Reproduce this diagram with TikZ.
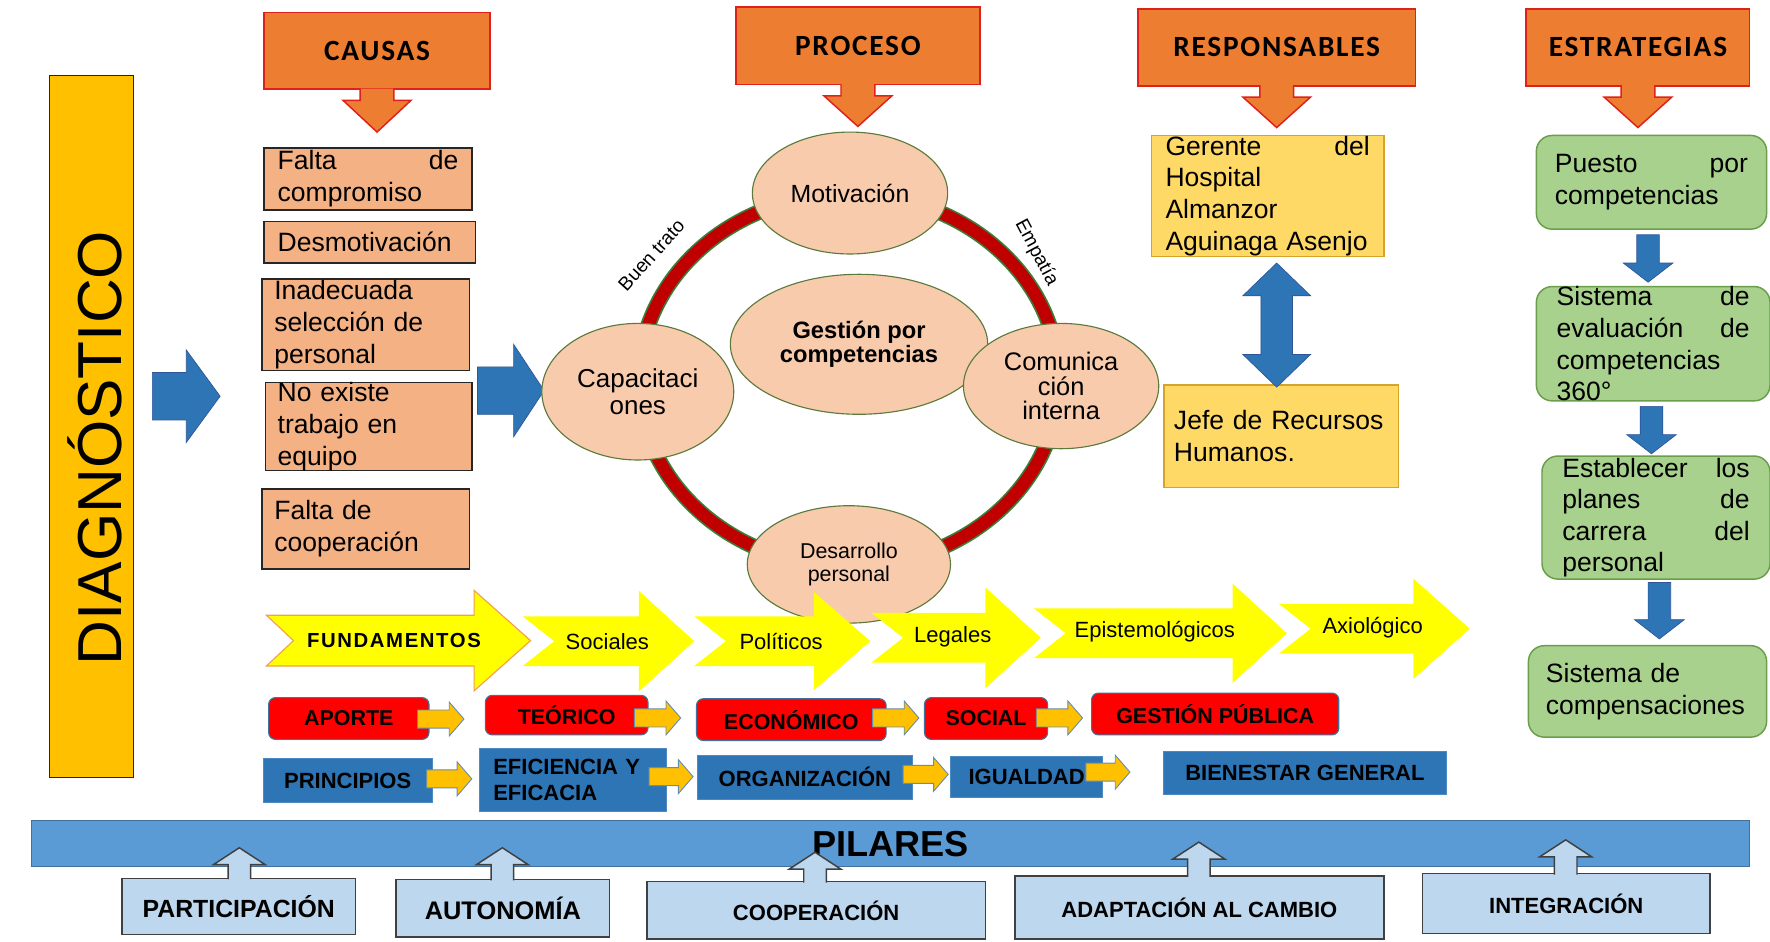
\documentclass[tikz,border=0pt]{standalone}
\usepackage{fontspec}
\setmainfont{Liberation Sans}
\newfontfamily\hdrfont[LetterSpace=6]{Carlito}
\newfontfamily\fundfont[LetterSpace=8]{Liberation Sans}
\usetikzlibrary{shapes.geometric}
\newcommand\fs[2]{\fontsize{#1}{#2}\selectfont}
\definecolor{hdrfill}{HTML}{ED7D31}
\definecolor{hdrline}{HTML}{E0201B}
\definecolor{diagfill}{HTML}{FFC000}
\definecolor{causefill}{HTML}{F4B183}
\definecolor{ovalfill}{HTML}{F8CBAD}
\definecolor{ovalline}{HTML}{5B7A3C}
\definecolor{ringred}{HTML}{C00000}
\definecolor{ringedge}{HTML}{3B7D3B}
\definecolor{respfill}{HTML}{FFD966}
\definecolor{respline}{HTML}{D6A42B}
\definecolor{stratfill}{HTML}{A9D18E}
\definecolor{stratline}{HTML}{6A9E4A}
\definecolor{bigblue}{HTML}{2E75B6}
\definecolor{bigblueline}{HTML}{2F5597}
\definecolor{chevyellow}{HTML}{FFFF00}
\definecolor{fundline}{HTML}{F0A050}
\definecolor{redfill}{HTML}{FF0000}
\definecolor{grayblue}{HTML}{41719C}
\definecolor{smallfill}{HTML}{FFC000}
\definecolor{barfill}{HTML}{5B9BD5}
\definecolor{pillarfill}{HTML}{BDD7EE}
\definecolor{pillarline}{HTML}{404040}
% block-arrow helpers
\newcommand\HArrow[7]{% style, x1, x2, yc, shaft half, head half, head length
 \draw[#1] (#2,{#4-#5}) -- ({#3-#7},{#4-#5}) -- ({#3-#7},{#4-#6}) -- (#3,#4) -- ({#3-#7},{#4+#6}) -- ({#3-#7},{#4+#5}) -- (#2,{#4+#5}) -- cycle;}
\newcommand\DownArrow[7]{% style, xc, y1, ytip, shaft half, head half, head length
 \draw[#1] ({#2-#5},#3) -- ({#2-#5},{#4-#7}) -- ({#2-#6},{#4-#7}) -- (#2,#4) -- ({#2+#6},{#4-#7}) -- ({#2+#5},{#4-#7}) -- ({#2+#5},#3) -- cycle;}
\newcommand\OpenArrow[8]{% fill, line, xc, ybase, ytip, shaft half, head half, y of head base
 \fill[#1] ({#3-#6},#4) -- ({#3-#6},#8) -- ({#3-#7},#8) -- (#3,#5) -- ({#3+#7},#8) -- ({#3+#6},#8) -- ({#3+#6},#4) -- cycle;
 \draw[#2] ({#3-#6},#4) -- ({#3-#6},#8) -- ({#3-#7},#8) -- (#3,#5) -- ({#3+#7},#8) -- ({#3+#6},#8) -- ({#3+#6},#4);}
\newcommand\Chevron[8]{% style, xtail, notch, xheadbase, xtip, yc, bodyhalf, headhalf
 \draw[#1] (#2,{#6-#7}) -- (#4,{#6-#7}) -- (#4,{#6-#8}) -- (#5,#6) -- (#4,{#6+#8}) -- (#4,{#6+#7}) -- (#2,{#6+#7}) -- ({#2+#3},#6) -- cycle;}
\newcommand\DblArrow[7]{% style, xc, ytop, ybot, shaft half, head half, head length
 \draw[#1] (#2,#3) -- ({#2+#6},{#3+#7}) -- ({#2+#5},{#3+#7}) -- ({#2+#5},{#4-#7}) -- ({#2+#6},{#4-#7}) -- (#2,#4) -- ({#2-#6},{#4-#7}) -- ({#2-#5},{#4-#7}) -- ({#2-#5},{#3+#7}) -- ({#2-#6},{#3+#7}) -- cycle;}
\begin{document}
\begin{tikzpicture}[x=1pt,y=-1pt,
 every node/.style={inner sep=0pt,outer sep=0pt},
 hdr/.style={draw=hdrline,fill=hdrfill,line width=1.3pt,font=\hdrfont\bfseries\fs{26}{28}},
 hdrarrowline/.style={draw=hdrline,line width=1.3pt,line join=miter},
 diagbox/.style={draw=black!85,fill=diagfill,line width=1.2pt},
 cause/.style={draw=black!85,fill=causefill,line width=1.3pt,align=left,font=\fs{23.5}{28}},
 oval/.style={ellipse,draw=ovalline,fill=ovalfill,line width=1pt,align=center},
 resp/.style={draw=respline,fill=respfill,line width=1.2pt,align=left,font=\fs{23.5}{28}},
 strat/.style={draw=stratline,fill=stratfill,line width=1.3pt,rounded corners=14pt,align=left,font=\fs{23.5}{28}},
 bigarrow/.style={fill=bigblue,draw=bigblueline,line width=0.6pt},
 chev/.style={fill=chevyellow,draw=none},
 fundchev/.style={fill=chevyellow,draw=fundline,line width=1pt},
 chevtext/.style={font=\fs{19.5}{22}},
 redbox/.style={draw=grayblue,fill=redfill,rounded corners=6pt,line width=1pt,font=\bfseries\fs{19}{22}},
 bluebox/.style={draw=bigblue!85!white,fill=bigblue,line width=0.8pt,font=\bfseries\fs{19.5}{23}},
 smallarrow/.style={fill=smallfill,draw=grayblue!80,line width=0.8pt},
 bar/.style={draw=grayblue,fill=barfill,line width=0.8pt,font=\bfseries\fs{32}{34}},
 pillar/.style={draw=pillarline,fill=pillarfill,line width=1.3pt,font=\bfseries\fs{19.5}{22}},
 ringlabel/.style={font=\fs{17}{19}}
]
\useasboundingbox (0,0) rectangle (1568,834);
\fill[white] (0,0) rectangle (1568,834);

% ---------------- headers ----------------
\node[hdr,minimum width=200pt,minimum height=68pt] (causas) at (334,45) {CAUSAS};
\node[hdr,minimum width=216pt,minimum height=69pt] (proceso) at (760,40.5) {PROCESO};
\node[hdr,minimum width=246pt,minimum height=68pt] (resp) at (1131,42) {RESPONSABLES};
\node[hdr,minimum width=198pt,minimum height=68pt] (estr) at (1451,42) {ESTRATEGIAS};
\OpenArrow{hdrfill}{hdrarrowline}{334}{78.5}{117}{15}{30}{89}
\OpenArrow{hdrfill}{hdrarrowline}{760}{74.5}{112}{15}{30}{85}
\OpenArrow{hdrfill}{hdrarrowline}{1131}{75.5}{113}{15}{30}{86}
\OpenArrow{hdrfill}{hdrarrowline}{1451}{75.5}{113}{15}{30}{86}

% ---------------- diagnostico ----------------
\node[diagbox,minimum width=74pt,minimum height=622pt] (diag) at (81,378) {};
\node[rotate=90,font=\fs{55}{60}] (diagtxt) at (84,397) {DIAGNÓSTICO};
\HArrow{bigarrow}{135}{195}{351}{21}{41}{30}
\HArrow{bigarrow}{423}{482}{346}{21}{41}{27}

% ---------------- causas ----------------
\node[cause,minimum width=184pt,minimum height=55pt,text width=160pt] (c1) at (326,158.5) {Falta\hfill de\\compromiso};
\node[cause,minimum width=187pt,minimum height=37pt,text width=163pt] (c2) at (327.5,214.5) {Desmotivación};
\node[cause,minimum width=184pt,minimum height=81pt,text width=162pt] (c3) at (324,287.5) {Inadecuada\\selección de\\personal};
\node[cause,minimum width=183pt,minimum height=76pt,text width=161pt] (c4) at (326.5,378) {No existe\\trabajo en\\equipo};
\node[cause,minimum width=184pt,minimum height=71pt,text width=162pt] (c5) at (324,468.5) {Falta de\\cooperación};

% ---------------- proceso ----------------
\draw[ringedge,line width=14pt] (752,337) ellipse [x radius=186,y radius=165];
\draw[ringred,line width=11pt] (752,337) ellipse [x radius=186,y radius=165];
\node[oval,minimum width=173pt,minimum height=108pt,font=\fs{22}{26}] (mot) at (753,171) {Motivación};
\node[oval,minimum width=228pt,minimum height=124pt,font=\bfseries\fs{21}{21}] (gest) at (761,305) {Gestión por\\competencias};
\node[oval,minimum width=170pt,minimum height=121pt,font=\fs{23}{24}] (cap) at (565,347) {Capacitaci\\ones};
\node[oval,minimum width=173pt,minimum height=111pt,font=\fs{22.5}{22}] (com) at (940,342) {Comunica\\ción\\interna};
\node[oval,minimum width=180pt,minimum height=104pt,font=\fs{19}{20}] (des) at (752,500) {Desarrollo\\personal};
\node[ringlabel,rotate=48] (buen) at (577,226) {Buen trato};
\node[ringlabel,rotate=-62] (emp) at (918,224) {Empatía};

% ---------------- responsables ----------------
\node[resp,minimum width=206pt,minimum height=107pt,text width=181pt] (ger) at (1123,173.5) {Gerente\hfill del\\Hospital\\Almanzor\\Aguinaga Asenjo};
\node[resp,minimum width=208pt,minimum height=91pt,text width=190pt] (jefe) at (1135,386.5) {Jefe de Recursos\\Humanos.};
\DblArrow{bigarrow}{1131}{233}{343}{14}{30}{29}

% ---------------- estrategias ----------------
\node[strat,minimum width=204pt,minimum height=83pt,text width=171pt] (g1) at (1463,161.5) {Puesto\hfill por\\competencias};
\node[strat,minimum width=207pt,minimum height=101pt,text width=171pt] (g2) at (1464.5,304.5) {Sistema\hfill de\\evaluación\hfill de\\competencias\\360°};
\node[strat,minimum width=202pt,minimum height=109pt,text width=166pt] (g3) at (1467,458.5) {Establecer\hfill los\\planes\hfill de\\carrera\hfill del\\personal};
\node[strat,minimum width=211pt,minimum height=81pt,text width=180pt] (g4) at (1459.5,612.5) {Sistema de\\compensaciones};
\DownArrow{bigarrow}{1460}{208}{250}{10}{22}{17}
\DownArrow{bigarrow}{1463}{360}{402}{10}{22}{17}
\DownArrow{bigarrow}{1470}{516}{566}{10}{22}{17}

% ---------------- fundamentos ----------------
\Chevron{fundchev}{236}{24}{420}{470}{567.5}{22.5}{44.5}
\Chevron{chev}{463}{28}{566}{615}{568}{22}{44.5}
\Chevron{chev}{615}{28}{721}{771}{568}{22}{43.5}
\Chevron{chev}{772}{28}{873}{922}{565}{22}{44.5}
\Chevron{chev}{916}{28}{1092}{1140}{561}{22}{44}
\Chevron{chev}{1133}{28}{1252}{1302}{557}{22}{44.5}
\node[font=\fundfont\bfseries\fs{18}{20}] (fund) at (349,567) {FUNDAMENTOS};
\node[chevtext] (soc) at (538,568) {Sociales};
\node[chevtext] (pol) at (692,568) {Políticos};
\node[chevtext] (leg) at (844,564) {Legales};
\node[chevtext] (epi) at (1023,560) {Epistemológicos};
\node[chevtext] (axi) at (1216,556) {Axiológico};

% ---------------- aporte ----------------
\node[redbox,minimum width=142pt,minimum height=37pt] (ap) at (309,636.5) {APORTE};
\node[redbox,minimum width=144pt,minimum height=35pt] (teo) at (502,633.5) {TEÓRICO};
\node[redbox,minimum width=168pt,minimum height=37pt] (eco) at (701,637.5) {ECONÓMICO};
\node[redbox,minimum width=109pt,minimum height=37pt] (socb) at (873.5,636.5) {SOCIAL};
\node[redbox,minimum width=219pt,minimum height=37pt] (gp) at (1076.5,632.5) {GESTIÓN PÚBLICA};
\HArrow{smallarrow}{370}{411}{637}{8}{15}{13}
\HArrow{smallarrow}{562}{603}{636}{8}{15}{13}
\HArrow{smallarrow}{773}{814}{636}{8}{15}{13}
\HArrow{smallarrow}{918}{959}{636}{8}{15}{13}

% ---------------- principios ----------------
\node[bluebox,minimum width=150pt,minimum height=39pt] (pri) at (308,691.5) {PRINCIPIOS};
\node[bluebox,minimum width=165pt,minimum height=56pt,text width=141pt,align=left] (efi) at (507.5,691) {EFICIENCIA Y\\EFICACIA};
\node[bluebox,minimum width=190pt,minimum height=39pt] (org) at (713,688.5) {ORGANIZACIÓN};
\node[bluebox,minimum width=135pt,minimum height=36pt] (igu) at (909.5,688) {IGUALDAD};
\node[bluebox,minimum width=250pt,minimum height=38pt] (bie) at (1156,685) {BIENESTAR GENERAL};
\HArrow{smallarrow}{378}{418}{690}{8}{15}{13}
\HArrow{smallarrow}{575}{614}{688}{8}{15}{13}
\HArrow{smallarrow}{800}{840}{686}{8}{15}{13}
\HArrow{smallarrow}{962}{1001}{684}{8}{15}{13}

% ---------------- pilares ----------------
\node[bar,minimum width=1522pt,minimum height=41pt] (pil) at (789,747.5) {PILARES};
\node[pillar,minimum width=207pt,minimum height=50pt,font=\bfseries\fs{22}{24}] (par) at (211.5,803) {PARTICIPACIÓN};
\node[pillar,minimum width=189pt,minimum height=51pt,font=\bfseries\fs{22.5}{24}] (aut) at (445.5,804.5) {AUTONOMÍA};
\node[pillar,minimum width=300pt,minimum height=51pt] (coo) at (723,806.5) {COOPERACIÓN};
\node[pillar,minimum width=327pt,minimum height=56pt] (ada) at (1062.5,804) {ADAPTACIÓN AL CAMBIO};
\node[pillar,minimum width=255pt,minimum height=53pt] (int) at (1387.5,800.5) {INTEGRACIÓN};
\OpenArrow{pillarfill}{draw=pillarline,line width=1.3pt}{212}{778.8}{751}{10}{23}{766}
\OpenArrow{pillarfill}{draw=pillarline,line width=1.3pt}{445}{779.8}{751}{10}{23}{766}
\OpenArrow{pillarfill}{draw=pillarline,line width=1.3pt}{722}{781.8}{755}{10}{23}{770}
\OpenArrow{pillarfill}{draw=pillarline,line width=1.3pt}{1062}{776.8}{746}{10}{23}{761}
\OpenArrow{pillarfill}{draw=pillarline,line width=1.3pt}{1387}{774.8}{744}{10}{23}{759}
\end{tikzpicture}
\end{document}
